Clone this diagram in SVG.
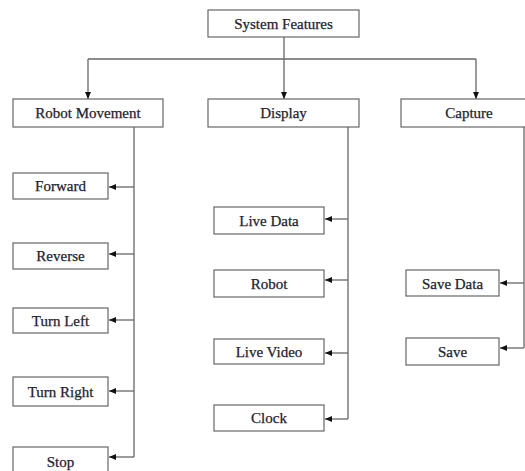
<svg xmlns="http://www.w3.org/2000/svg" width="525" height="471" viewBox="0 0 525 471">
<defs>
<marker id="ah" markerWidth="7" markerHeight="6" refX="7" refY="3" orient="auto" markerUnits="userSpaceOnUse">
<path d="M0,0 L7,3 L0,6 Z" fill="#111"/>
</marker>
</defs>
<style>
.box{fill:#fff;stroke:#666;stroke-width:1.2}
.lbl{font-family:"Liberation Serif","Times New Roman",serif;font-size:15px;fill:#22222e;stroke:#22222e;stroke-width:0.25;text-anchor:middle}
.c{fill:none;stroke:#666;stroke-width:1.3}
.a{fill:none;stroke:#666;stroke-width:1.3;marker-end:url(#ah)}
</style>
<rect width="525" height="471" fill="#fff"/>
<g id="connectors">
<line class="c" x1="284" y1="37" x2="284" y2="59"/>
<line class="c" x1="88" y1="59" x2="476" y2="59"/>
<line class="a" x1="88" y1="59" x2="88" y2="99"/>
<line class="a" x1="284" y1="59" x2="284" y2="99"/>
<line class="a" x1="476" y1="59" x2="476" y2="99"/>
<line class="c" x1="134" y1="127" x2="134" y2="457"/>
<line class="a" x1="134" y1="187" x2="109" y2="187"/>
<line class="a" x1="134" y1="254" x2="109" y2="254"/>
<line class="a" x1="134" y1="320" x2="109" y2="320"/>
<line class="a" x1="134" y1="391" x2="109" y2="391"/>
<line class="a" x1="134" y1="457" x2="109" y2="457"/>
<line class="c" x1="348" y1="127" x2="348" y2="419"/>
<line class="a" x1="348" y1="219" x2="325" y2="219"/>
<line class="a" x1="348" y1="280" x2="325" y2="280"/>
<line class="a" x1="348" y1="353" x2="325" y2="353"/>
<line class="a" x1="348" y1="419" x2="325" y2="419"/>
<line class="c" x1="524" y1="127" x2="524" y2="348"/>
<line class="a" x1="524" y1="283" x2="500" y2="283"/>
<line class="a" x1="524" y1="348" x2="500" y2="348"/>
</g>
<g id="system-features"><rect class="box" x="208" y="10" width="151" height="27"/><text class="lbl" x="283.5" y="29">System Features</text></g>
<g id="robot-movement"><rect class="box" x="13" y="99" width="150" height="28"/><text class="lbl" x="88" y="118">Robot Movement</text></g>
<g id="display"><rect class="box" x="208" y="99" width="151" height="28"/><text class="lbl" x="283.5" y="118">Display</text></g>
<g id="capture"><rect class="box" x="401" y="99" width="136" height="28"/><text class="lbl" x="469" y="118">Capture</text></g>
<g id="forward"><rect class="box" x="13" y="173" width="95" height="26"/><text class="lbl" x="60.5" y="191">Forward</text></g>
<g id="reverse"><rect class="box" x="13" y="243" width="95" height="26"/><text class="lbl" x="60.5" y="261">Reverse</text></g>
<g id="turn-left"><rect class="box" x="13" y="308" width="95" height="25"/><text class="lbl" x="60.5" y="326">Turn Left</text></g>
<g id="turn-right"><rect class="box" x="13" y="377" width="95" height="29"/><text class="lbl" x="60.5" y="397">Turn Right</text></g>
<g id="stop"><rect class="box" x="13" y="447" width="95" height="28"/><text class="lbl" x="60.5" y="467">Stop</text></g>
<g id="live-data"><rect class="box" x="214" y="207" width="110" height="27"/><text class="lbl" x="269" y="226">Live Data</text></g>
<g id="robot"><rect class="box" x="214" y="270" width="110" height="27"/><text class="lbl" x="269" y="289">Robot</text></g>
<g id="live-video"><rect class="box" x="214" y="339" width="110" height="25"/><text class="lbl" x="269" y="357">Live Video</text></g>
<g id="clock"><rect class="box" x="214" y="405" width="110" height="26"/><text class="lbl" x="269" y="423">Clock</text></g>
<g id="save-data"><rect class="box" x="406" y="270" width="93" height="26"/><text class="lbl" x="452.5" y="289">Save Data</text></g>
<g id="save"><rect class="box" x="406" y="338" width="93" height="27"/><text class="lbl" x="452.5" y="357">Save</text></g>
</svg>
